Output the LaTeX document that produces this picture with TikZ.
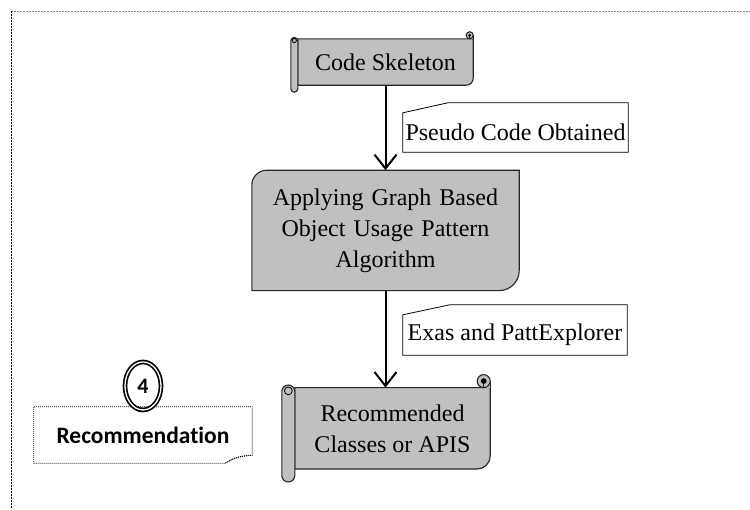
\documentclass[tikz,border=0pt]{standalone}
\usepackage{fontspec}
\setmainfont{Liberation Serif}
\newfontfamily\calibri[Ligatures=NoCommon]{Carlito}
\usetikzlibrary{positioning,calc,arrows.meta,shapes.geometric}
\pgfdeclarelayer{background}
\pgfsetlayers{background,main}
\definecolor{boxgray}{RGB}{192,192,192}

% scroll with rolls: node name, roll size (pt)
\newcommand{\hscroll}[2]{%
  \begin{pgfonlayer}{background}
    \draw[box line] (#1.north west) -- (#1.north east) [rounded corners=#2pt] -- (#1.south east) [sharp corners] -- (#1.south west) -- cycle;
  \end{pgfonlayer}
  \draw[box line, rounded corners=0.5*#2pt] let \p1=(#1.north west), \p2=(#1.south east) in
    (\x1-#2pt,\y1+0.2*#2pt) rectangle (\x1,\y2-#2pt);
  \draw[line width=0.8pt] let \p1=(#1.north west) in
    (\x1-0.5*#2pt,\y1-0.25*#2pt) circle[radius=0.3*#2pt];
  \fill[boxgray] let \p2=(#1.north east) in (\x2-0.5*#2pt,\y2) rectangle (\x2,\y2+0.5*#2pt);
  \draw[box line] let \p2=(#1.north east) in
    (\x2-0.5*#2pt,\y2+0.5*#2pt) circle[radius=0.5*#2pt];
  \draw[box line] let \p2=(#1.north east) in
    (\x2,\y2) -- (\x2,\y2+0.5*#2pt)
    (\x2-0.5*#2pt,\y2) -- (\x2-0.5*#2pt,\y2+0.5*#2pt);
  \fill let \p2=(#1.north east) in (\x2-0.5*#2pt,\y2+0.5*#2pt) circle[radius=0.22*#2pt];
}
% box with two round corners
\newcommand{\cutbox}[1]{%
  \begin{pgfonlayer}{background}
    \draw[box line] (#1.south west) [rounded corners=15pt] -- (#1.north west) [sharp corners] -- (#1.north east) [rounded corners=20pt] -- (#1.south east) [sharp corners] -- cycle;
  \end{pgfonlayer}}
% label with slanted top
\newcommand{\tagbox}[2]{%
  \draw[tag line] (#1.south west) -- (#1.north west) -- ([xshift=#2pt,yshift=10pt]#1.north west)
    -- ([yshift=10pt]#1.north east) -- (#1.south east) -- cycle;}

\tikzset{
  box line/.style={draw=black!85, line width=1.1pt, fill=boxgray},
  tag line/.style={draw=black, line width=0.8pt},
  flow arrow/.style={-{Straight Barb[length=14pt,width=22pt]}, line width=2pt},
  main node/.style={inner sep=2pt, align=center, font=\fontsize{24}{31}\selectfont},
  tag node/.style={inner sep=2pt, font=\fontsize{24}{29}\selectfont}
}

\begin{document}
\begin{tikzpicture}[x=1pt, y=-1pt]
    \useasboundingbox (0,0) rectangle (750,509);
    \draw[gray, line width=1pt, dash pattern=on 2pt off 1pt] (11,11) -- (750,11);
    \draw[black, line width=1pt, dash pattern=on 2pt off 1pt] (11,11) -- (11,509);

    \node[main node, minimum width=175pt, minimum height=46pt] (skeleton) at (385.5,62) {Code Skeleton};
    \node[main node, minimum width=267pt, minimum height=120pt, text width=260pt, below=85pt of skeleton] (algo)
        {Applying Graph Based\\Object Usage Pattern\\Algorithm};
    \node[main node, minimum width=195pt, minimum height=81pt, below=97pt of algo, xshift=7pt] (recommended)
        {Recommended\\Classes or APIS};
    \hscroll{skeleton}{7}
    \cutbox{algo}
    \hscroll{recommended}{13}

    \node[tag node, minimum width=225pt, minimum height=39pt] (pseudo) at (515.5,132.5) {Pseudo Code Obtained};
    \node[tag node, minimum width=224pt, minimum height=40pt] (exas) at (515,335) {Exas and PattExplorer};
    \tagbox{pseudo}{45}
    \tagbox{exas}{47}

    \draw[flow arrow] (skeleton) -- (algo);
    \draw[flow arrow] (algo.south) -- (algo.south |- recommended.north);

    \node[minimum width=218pt, minimum height=56pt, font=\calibri\bfseries\fontsize{23.5}{28}\selectfont] (recbox) at (143,435) {Recommendation};
    \draw[line width=0.7pt, dash pattern=on 1pt off 1pt] (recbox.north west) -- (recbox.north east) -- ([yshift=8pt]recbox.south east)
        .. controls ([xshift=-12pt,yshift=8pt]recbox.south east) and ([xshift=-22pt,yshift=4pt]recbox.south east) .. ([xshift=-27pt]recbox.south east)
        -- (recbox.south west) -- cycle;
    \draw[line width=0.7pt, dash pattern=on 1pt off 1pt] ([xshift=-27pt]recbox.south east)
        .. controls ([xshift=-16pt,yshift=6pt]recbox.south east) .. ([yshift=8pt]recbox.south east);
    \node[ellipse, draw, double, double distance=1.3pt, line width=1.7pt, minimum width=36pt, minimum height=48pt, inner sep=0pt,
        above=-4pt of recbox, font=\calibri\bfseries\fontsize{22}{26}\selectfont] (stepfour) {4};
\end{tikzpicture}
\end{document}
